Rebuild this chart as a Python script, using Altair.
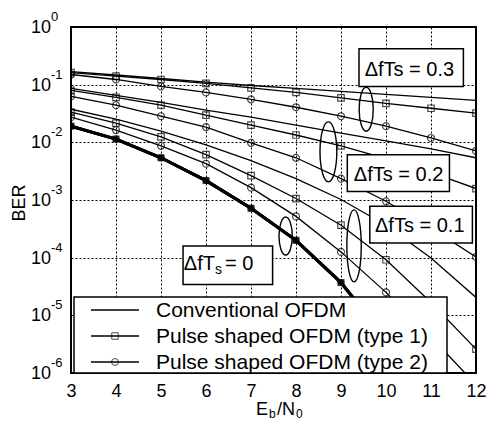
import altair as alt
import pandas as pd

# ---------------- data ----------------
eb = [3, 4, 5, 6, 7, 8, 9, 10, 11, 12]

conv_03 = [0.169, 0.147, 0.128, 0.111, 0.0968, 0.0861, 0.0764, 0.0679, 0.0603, 0.0536]
type1_03 = [0.162, 0.141, 0.123, 0.105, 0.0877, 0.0734, 0.0590, 0.0475, 0.0390, 0.0320]
type2_03 = [0.150, 0.123, 0.0931, 0.0734, 0.0557, 0.0406, 0.0284, 0.0191, 0.0119, 0.0071]

conv_02 = [0.0861, 0.0652, 0.0494, 0.0361, 0.0273, 0.0199, 0.0145, 0.0106, 0.0077, 0.0054]
type1_02 = [0.0794, 0.0603, 0.0440, 0.0296, 0.0199, 0.0134, 0.0087, 0.0052, 0.0030, 0.00158]
type2_02 = [0.0627, 0.0440, 0.0284, 0.0184, 0.0098, 0.0054, 0.00235, 0.00095, 0.000325, 0.000103]

conv_01 = [0.0375, 0.0252, 0.0157, 0.0090, 0.0048, 0.00235, 0.00102, 0.000366, 0.000099, 0.0000204]
type1_01 = [0.0333, 0.0215, 0.0124, 0.0061, 0.00265, 0.00106, 0.000366, 0.000092, 0.0000167, 0.0000026]
type2_01 = [0.0273, 0.0163, 0.0087, 0.00426, 0.00164, 0.00052, 0.000126, 0.000025, 0.0000042, 0.00000063]

eb_00 = [3, 4, 5, 6, 7, 8, 9, 10]
all_00 = [0.0191, 0.0114, 0.0054, 0.00217, 0.00072, 0.000200, 0.000037, 0.0000039]

y_ticks = [1, 0.1, 0.01, 0.001, 0.0001, 0.00001, 0.000001]
y_exps = ["0", "-1", "-2", "-3", "-4", "-5", "-6"]
x_ticks = [3, 4, 5, 6, 7, 8, 9, 10, 11, 12]

legend_labels = ["Conventional OFDM", "Pulse shaped OFDM (type 1)", "Pulse shaped OFDM (type 2)"]

# annotation boxes (Eb/N0 and BER coordinates)
box_text = ["\u0394fTs = 0.3", "\u0394fTs = 0.2", "\u0394fTs = 0.1"]
box_x1 = [9.40, 9.14, 9.64]
box_x2 = [11.72, 11.41, 11.92]
box_y1 = [0.419, 0.00608, 0.000776]
box_y2 = [0.0931, 0.00141, 0.000180]
box_tx = [10.52, 10.28, 10.75]
box_ty = [0.182, 0.00275, 0.000352]

zero_box = dict(x1=5.49, x2=7.48, y1=0.000160, y2=0.0000341)
zero_text_y = 0.000078

ell_x = [9.56, 8.72, 9.29, 7.77]
ell_y = [0.0375, 0.00684, 0.000160, 0.000237]
ell_h = [44, 60, 72, 38]
ell_r = [0.32, 0.28, 0.2, 0.35]

# ---------------- build tables ----------------
rows = []
for grp, series in [("0.3", [conv_03, type1_03, type2_03]),
                    ("0.2", [conv_02, type1_02, type2_02]),
                    ("0.1", [conv_01, type1_01, type2_01])]:
    for kind, vals in zip(["conv", "type1", "type2"], series):
        for e, v in zip(eb, vals):
            rows.append(dict(eb=e, ber=v, grp=grp, kind=kind, series=grp + kind))
df = pd.DataFrame(rows)

rows0 = []
for kind in ["conv", "type1", "type2"]:
    for e, v in zip(eb_00, all_00):
        rows0.append(dict(eb=e, ber=v, kind=kind, series="0" + kind))
df0 = pd.DataFrame(rows0)

FONT = "Liberation Sans"
W, H = 405, 346

xs = alt.Scale(domain=[3, 12], nice=False, zero=False)
ys = alt.Scale(type="log", domain=[1e-6, 1], nice=False)
xaxis = alt.Axis(values=x_ticks, title=None, labelFontSize=18, labelFont=FONT, labelColor="black",
                 grid=True, ticks=False, domain=False, labelPadding=9, labelFlush=False)
yaxis = alt.Axis(values=y_ticks, title=None, labels=False, grid=True, ticks=False, domain=False)

X = alt.X("eb:Q", scale=xs, axis=xaxis)
Y = alt.Y("ber:Q", scale=ys, axis=yaxis)

lines = alt.Chart(df).mark_line(color="black", strokeWidth=1.3, clip=True).encode(
    x=X, y=Y, detail="series:N")
sq = alt.Chart(df).transform_filter("datum.kind == 'type1'").mark_point(
    shape="square", filled=False, color="black", size=42, strokeWidth=1.2, clip=True).encode(x=X, y=Y)
ci = alt.Chart(df).transform_filter("datum.kind == 'type2'").mark_point(
    shape="circle", filled=False, color="black", size=48, strokeWidth=1.2, clip=True).encode(x=X, y=Y)

lines0 = alt.Chart(df0).mark_line(color="black", strokeWidth=3, clip=True).encode(
    x=X, y=Y, detail="series:N")
sq0 = alt.Chart(df0).transform_filter("datum.kind == 'type1'").mark_point(
    shape="square", filled=True, color="black", size=50, clip=True).encode(x=X, y=Y)
ci0 = alt.Chart(df0).transform_filter("datum.kind == 'type2'").mark_point(
    shape="circle", filled=True, color="black", size=50, clip=True).encode(x=X, y=Y)

boxes_df = pd.DataFrame(dict(x1=box_x1, x2=box_x2, y1=box_y1, y2=box_y2, tx=box_tx, ty=box_ty, t=box_text))
boxes = alt.Chart(boxes_df).mark_rect(fill="white", stroke="black", strokeWidth=1.5).encode(
    x=alt.X("x1:Q", scale=xs, axis=xaxis), x2="x2:Q",
    y=alt.Y("y1:Q", scale=ys, axis=yaxis), y2="y2:Q")
box_texts = alt.Chart(boxes_df).mark_text(font=FONT, fontSize=20, color="black",
                                          align="center", baseline="middle").encode(
    x=alt.X("tx:Q", scale=xs, axis=xaxis), y=alt.Y("ty:Q", scale=ys, axis=yaxis), text="t:N")

zdf = pd.DataFrame([zero_box])
zbox = alt.Chart(zdf).mark_rect(fill="white", stroke="black", strokeWidth=1.5).encode(
    x=alt.X("x1:Q", scale=xs, axis=xaxis), x2="x2:Q",
    y=alt.Y("y1:Q", scale=ys, axis=yaxis), y2="y2:Q")
ztd = pd.DataFrame(dict(x=[6.20, 6.20, 6.42], y=[zero_text_y] * 3,
                        t=["\u0394fT", "s", "= 0"]))
zt1 = alt.Chart(ztd.iloc[[0]]).mark_text(font=FONT, fontSize=20, align="right", baseline="middle").encode(
    x=alt.X("x:Q", scale=xs, axis=xaxis), y=alt.Y("y:Q", scale=ys, axis=yaxis), text="t:N")
zt2 = alt.Chart(ztd.iloc[[1]]).mark_text(font=FONT, fontSize=14, align="left", baseline="middle", dy=6).encode(
    x=alt.X("x:Q", scale=xs, axis=xaxis), y=alt.Y("y:Q", scale=ys, axis=yaxis), text="t:N")
zt3 = alt.Chart(ztd.iloc[[2]]).mark_text(font=FONT, fontSize=20, align="left", baseline="middle").encode(
    x=alt.X("x:Q", scale=xs, axis=xaxis), y=alt.Y("y:Q", scale=ys, axis=yaxis), text="t:N")

def ellipse_path(r):
    return f"M0,-1A{r},1,0,1,1,0,1A{r},1,0,1,1,0,-1Z"

edf = pd.DataFrame(dict(x=ell_x, y=ell_y, sz=[h * h for h in ell_h],
                        shp=[ellipse_path(r) for r in ell_r]))
ellipses = alt.Chart(edf).mark_point(filled=False, color="black", strokeWidth=1.4, opacity=1).encode(
    x=alt.X("x:Q", scale=xs, axis=xaxis), y=alt.Y("y:Q", scale=ys, axis=yaxis),
    size=alt.Size("sz:Q", scale=None), shape=alt.Shape("shp:N", scale=None))

# y tick labels: "10" with superscript exponent
tdf = pd.DataFrame(dict(v=y_ticks, e=y_exps, b=["10"] * len(y_ticks)))
ybase = alt.Chart(tdf).mark_text(font=FONT, fontSize=18, align="right", baseline="middle", dy=1).encode(
    x=alt.value(-20), y=alt.Y("v:Q", scale=ys, axis=yaxis), text="b:N")
yexp = alt.Chart(tdf).mark_text(font=FONT, fontSize=13, align="left", baseline="middle", dy=-10).encode(
    x=alt.value(-20), y=alt.Y("v:Q", scale=ys, axis=yaxis), text="e:N")

one = pd.DataFrame({"a": [0]})
ytitle = alt.Chart(one).mark_text(font=FONT, fontSize=18, angle=270, align="center", baseline="middle").encode(
    x=alt.value(-51), y=alt.value(176), text=alt.value("BER"))
xt = [
    alt.Chart(one).mark_text(font=FONT, fontSize=18, align="left", baseline="alphabetic").encode(
        x=alt.value(185), y=alt.value(388), text=alt.value("E")),
    alt.Chart(one).mark_text(font=FONT, fontSize=12, align="left", baseline="alphabetic").encode(
        x=alt.value(198), y=alt.value(391), text=alt.value("b")),
    alt.Chart(one).mark_text(font=FONT, fontSize=18, align="left", baseline="alphabetic").encode(
        x=alt.value(206), y=alt.value(388), text=alt.value("/N")),
    alt.Chart(one).mark_text(font=FONT, fontSize=12, align="left", baseline="alphabetic").encode(
        x=alt.value(225), y=alt.value(391), text=alt.value("0")),
]

# legend (drawn by hand)
leg = [alt.Chart(one).mark_rect(fill="white", stroke="black", strokeWidth=1.5).encode(
    x=alt.value(3), x2=alt.value(376), y=alt.value(270), y2=alt.value(346))]
row_y = [283, 309, 335]
for i, lab in enumerate(legend_labels):
    leg.append(alt.Chart(one).mark_rule(color="black", strokeWidth=1.3).encode(
        x=alt.value(20), x2=alt.value(68), y=alt.value(row_y[i])))
    if i == 1:
        leg.append(alt.Chart(one).mark_point(shape="square", filled=False, color="black", size=42,
                                             strokeWidth=1.0).encode(x=alt.value(44), y=alt.value(row_y[i])))
    if i == 2:
        leg.append(alt.Chart(one).mark_point(shape="circle", filled=False, color="black", size=48,
                                             strokeWidth=1.0).encode(x=alt.value(44), y=alt.value(row_y[i])))
    leg.append(alt.Chart(one).mark_text(font=FONT, fontSize=21, align="left", baseline="middle").encode(
        x=alt.value(85), y=alt.value(row_y[i] + 1), text=alt.value(lab)))

chart = alt.layer(
    lines, sq, ci, lines0, sq0, ci0, ellipses, boxes, box_texts, zbox, zt1, zt2, zt3,
    ybase, yexp, ytitle, *xt, *leg
).properties(
    width=W, height=H,
    autosize=alt.AutoSizeParams(type="none"),
    padding={"left": 63, "top": 19, "right": 11, "bottom": 49},
    background="white",
).configure_view(stroke="black", strokeWidth=2).configure_axis(
    gridColor="black", gridDash=[2, 2], gridWidth=1, gridOpacity=1
)

chart.save("out.html", embed_options={"renderer": "svg", "actions": False})
